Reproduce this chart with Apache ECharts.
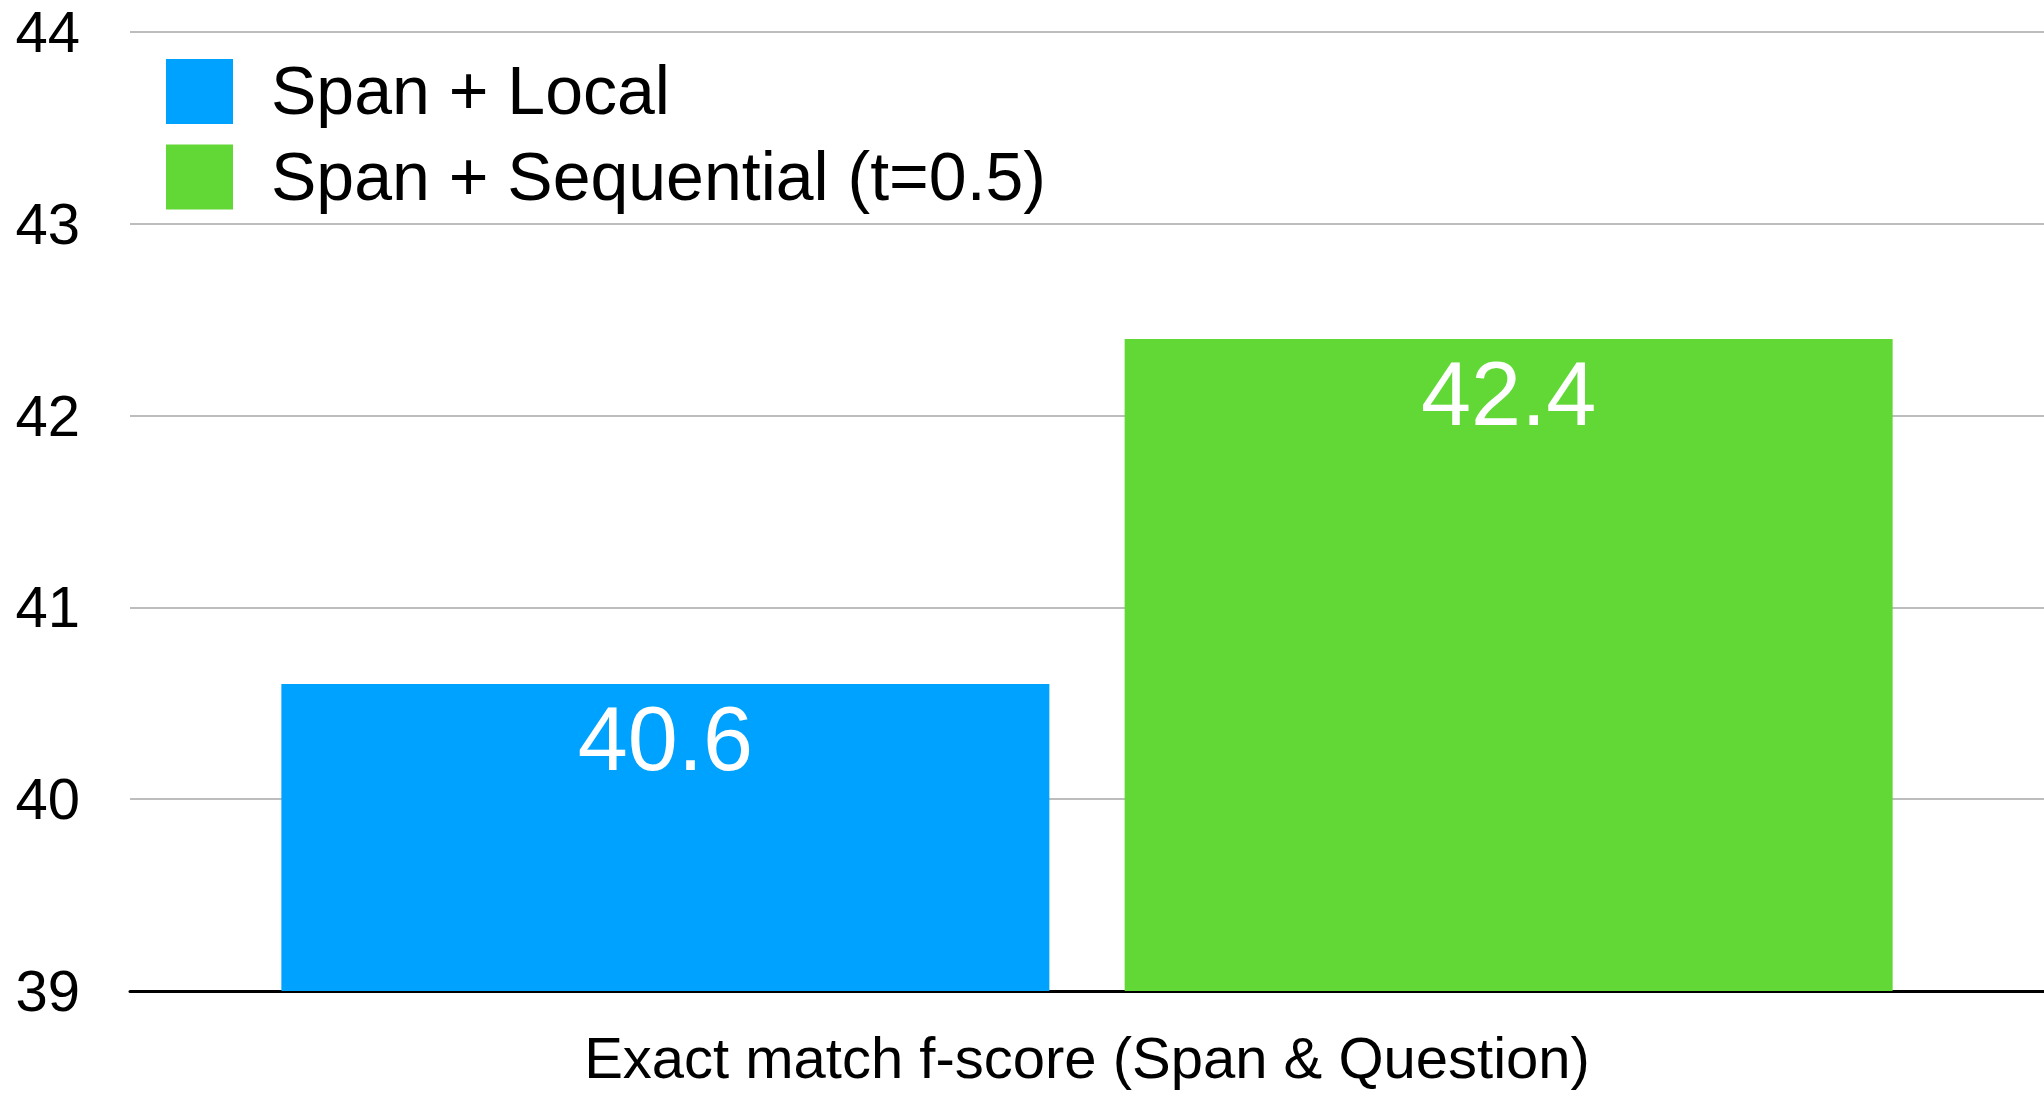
<!DOCTYPE html>
<html>
<head>
<meta charset="utf-8">
<title>Exact match f-score</title>
<script src="https://cdn.jsdelivr.net/npm/echarts@6/dist/echarts.min.js"></script>
<style>
  html, body { margin: 0; padding: 0; background: #fff; }
  #chart { width: 2044px; height: 1093px; }
</style>
</head>
<body>
<div id="chart"></div>
<script>
  // data
  var categories = ['Exact match f-score (Span & Question)'];
  var seriesNames = ['Span + Local', 'Span + Sequential (t=0.5)'];
  var localValues = [40.6];
  var sequentialValues = [42.4];
  var yTicks = [39, 40, 41, 42, 43, 44];

  var font = 'Liberation Sans, Arial, Helvetica, sans-serif';
  var myChart = echarts.init(document.getElementById('chart'));

  var barLabel = {
    show: true,
    position: 'insideTop',
    distance: 16,
    color: '#fff',
    fontSize: 90,
    fontFamily: font,
    formatter: '{c}'
  };

  var option = {
    backgroundColor: '#fff',
    animation: false,
    grid: { left: 130, right: 0, top: 32, bottom: 102 },
    legend: {
      left: 161,
      top: 54,
      orient: 'vertical',
      itemWidth: 67,
      itemHeight: 65,
      itemGap: 15,
      icon: 'rect',
      data: seriesNames,
      formatter: '{t|{name}}',
      textStyle: {
        rich: {
          t: { fontSize: 68, fontFamily: font, color: '#000', padding: [8, 0, 0, 33] }
        }
      }
    },
    xAxis: {
      type: 'category',
      data: categories,
      axisTick: { show: false },
      axisLine: { lineStyle: { color: '#000', width: 3 } },
      axisLabel: { fontSize: 58, fontFamily: font, color: '#000', margin: 42 }
    },
    yAxis: {
      type: 'value',
      min: yTicks[0],
      max: yTicks[yTicks.length - 1],
      interval: 1,
      axisLine: { show: false },
      axisTick: { show: false },
      splitLine: { lineStyle: { color: '#bdbdbd', width: 2 } },
      axisLabel: {
        color: '#000', margin: 50,
        formatter: function (v) { return '{t|' + v + '}'; },
        rich: {
          t: { fontSize: 58, fontFamily: font, color: '#000', padding: [8, 0, 0, 0] }
        }
      }
    },
    series: [
      {
        name: seriesNames[0],
        type: 'bar',
        data: localValues,
        barWidth: 768,
        barGap: '9.8%',
        itemStyle: { color: '#00a2ff' },
        label: barLabel
      },
      {
        name: seriesNames[1],
        type: 'bar',
        data: sequentialValues,
        barWidth: 768,
        itemStyle: { color: '#61d836' },
        label: barLabel
      }
    ]
  };

  myChart.setOption(option);
</script>
</body>
</html>
